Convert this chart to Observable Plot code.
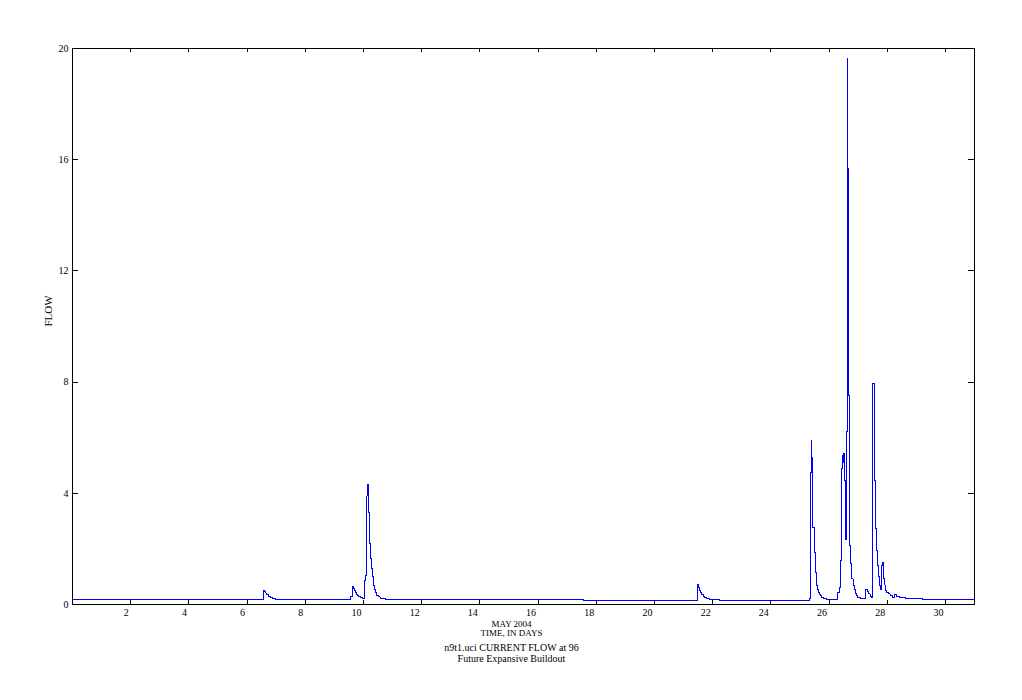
<!DOCTYPE html>
<html>
<head>
<meta charset="utf-8">
<script src="https://cdn.jsdelivr.net/npm/d3@7"></script>
<script src="https://cdn.jsdelivr.net/npm/@observablehq/plot@0.6"></script>
<style>
  html, body { margin: 0; padding: 0; background: #fff; }
  #chart svg { display: block; }
</style>
</head>
<body>
<div id="chart"></div>
<script>
// Time in days (May 2004) and flow values
const days = [
  0, 6.57, 6.61, 6.65, 6.68, 6.72, 6.75, 6.80, 6.86, 6.91, 6.97, 7.05,
  9.56, 9.61, 9.65, 9.68, 9.72, 9.75, 9.79, 9.82, 9.89, 9.96,
  10.03, 10.06, 10.10, 10.13, 10.17, 10.20, 10.23, 10.27, 10.30, 10.34, 10.37, 10.41, 10.46, 10.51, 10.58, 10.75, 10.92,
  17.55,
  21.47, 21.49, 21.52, 21.55, 21.59, 21.63, 21.68, 21.73, 21.79, 21.88, 22.24,
  25.33, 25.352, 25.397, 25.41, 25.42, 25.443, 25.489, 25.535, 25.569, 25.603, 25.638, 25.672, 25.707, 25.752, 25.81, 25.924,
  26.30, 26.359, 26.405, 26.44, 26.474, 26.49, 26.50, 26.531, 26.555, 26.578, 26.60, 26.634, 26.646, 26.68, 26.703,
  26.749, 26.783, 26.829, 26.863, 26.898, 26.944, 26.99, 27.07,
  27.253, 27.321, 27.356, 27.413, 27.47,
  27.505, 27.574, 27.608, 27.642, 27.677, 27.711, 27.745, 27.768,
  27.814, 27.837, 27.883, 27.917, 27.952, 27.986, 28.043, 28.10, 28.181, 28.249, 28.307, 28.41, 28.616, 29.22, 31
];
const flow = [
  0.17, 0.49, 0.45, 0.40, 0.36, 0.32, 0.29, 0.26, 0.23, 0.21, 0.19, 0.17,
  0.28, 0.65, 0.58, 0.50, 0.43, 0.37, 0.32, 0.28, 0.25, 0.23,
  0.85, 1.05, 3.9, 4.3, 3.3, 2.2, 1.65, 1.3, 1.0, 0.70, 0.55, 0.42, 0.33, 0.27, 0.23, 0.19, 0.17,
  0.13,
  0.55, 0.72, 0.60, 0.50, 0.42, 0.35, 0.29, 0.25, 0.22, 0.18, 0.13,
  0.22, 4.76, 5.9, 4.8, 5.3, 2.78, 1.88, 1.16, 0.68, 0.53, 0.43, 0.36, 0.31, 0.26, 0.20, 0.17,
  0.44, 0.62, 1.58, 4.88, 5.36, 5.12, 5.42, 4.46, 2.92, 2.33, 6.22, 19.63, 15.7, 7.52, 2.12,
  1.46, 0.92, 0.68, 0.53, 0.41, 0.32, 0.26, 0.20,
  0.53, 0.48, 0.38, 0.30, 0.26,
  7.94, 4.46, 2.72, 1.94, 1.40, 1.0, 0.68, 0.53,
  1.4, 1.5, 0.93, 0.70, 0.50, 0.44, 0.38, 0.32, 0.26, 0.35, 0.30, 0.24, 0.22, 0.17, 0.17
];
const xTicks = [2, 4, 6, 8, 10, 12, 14, 16, 18, 20, 22, 24, 26, 28, 30];
const yTicks = [0, 4, 8, 12, 16, 20];
const yLabel = ["FLOW"];
const captionLines = ["MAY 2004", "TIME, IN DAYS", "n9t1.uci CURRENT FLOW at 96", "Future Expansive Buildout"];
const captionOffsets = [22, 31.5, 46.5, 57.5];
const captionSizes = [9, 9, 10, 10];

const data = days.map((d, i) => ({day: d, flow: flow[i]}));

const W = 1022, H = 700;
const mL = 72, mR = 48, mT = 48, mB = 96;
const plotW = W - mL - mR, plotH = H - mT - mB;

const chart = Plot.plot({
  width: W,
  height: H,
  marginLeft: mL,
  marginRight: mR,
  marginTop: mT,
  marginBottom: mB,
  style: {fontFamily: "'Liberation Serif', 'DejaVu Serif', serif", fontSize: "10px", color: "black", background: "white"},
  x: {domain: [0, 31]},
  y: {domain: [0, 20]},
  marks: [
    Plot.line(data, {x: "day", y: "flow", curve: "step-after", stroke: "#0000ff", strokeWidth: 1, shapeRendering: "crispEdges"}),
    Plot.frame({stroke: "black", strokeWidth: 1, shapeRendering: "crispEdges"}),
    // inward ticks
    Plot.tickX(xTicks, {x: d => d, insetTop: plotH - 4, stroke: "black", shapeRendering: "crispEdges"}),
    Plot.tickX(xTicks, {x: d => d, insetBottom: plotH - 4, stroke: "black", shapeRendering: "crispEdges"}),
    Plot.tickY(yTicks, {y: d => d, insetRight: plotW - 6, stroke: "black", shapeRendering: "crispEdges"}),
    Plot.tickY(yTicks, {y: d => d, insetLeft: plotW - 6, stroke: "black", shapeRendering: "crispEdges"}),
    Plot.axisX({ticks: xTicks, tickSize: 0, tickPadding: 4, textAnchor: "end", dx: -2, label: null, fill: "black"}),
    Plot.axisY({ticks: yTicks, tickSize: 0, tickPadding: 4, label: null, fill: "black"}),
    Plot.text(yLabel, {text: d => d, frameAnchor: "left", rotate: -90, dx: -24, fontSize: 11, fill: "black"}),
    ...captionLines.map((t, i) => Plot.text([t], {text: d => d, frameAnchor: "bottom", dy: captionOffsets[i], dx: -12, fontSize: captionSizes[i], fill: "black"}))
  ]
});

document.getElementById("chart").appendChild(chart);
</script>
</body>
</html>
